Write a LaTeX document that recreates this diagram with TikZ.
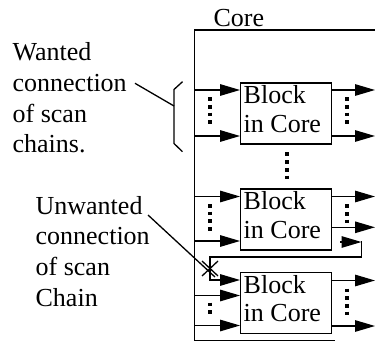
\documentclass[tikz,border=0pt]{standalone}
\usepackage{fontspec}
\setmainfont{Liberation Serif}
\usetikzlibrary{arrows.meta}
\begin{document}
\begin{tikzpicture}[x=1pt,y=-1pt,line width=1.3pt,
  arr/.style={-{Triangle[length=20pt,width=11.5pt]}},
  blockbox/.style={draw, minimum width=91pt, minimum height=61pt, inner sep=0pt},
  blocktext/.style={inner sep=0pt, align=left, anchor=north west, font=\fontsize{26}{28.4}\selectfont},
  dotcol/.style={line width=4pt, dash pattern=on 3.7pt off 4pt},
  lbl/.style={font=\fontsize{26}{30.7}\selectfont, align=left, inner sep=0pt, anchor=north west}]
\useasboundingbox (0,0) rectangle (375,342);
% core outline
\draw (375,30) -- (194.5,30) -- (194.5,340.5) -- (335,340.5);
\node[font=\fontsize{26}{30}\selectfont, anchor=base west, inner sep=0pt] (corelbl) at (213,26.5) {Core};
% blocks
\node[blockbox] (b1) at (286.2,113.5) {};
\node[blockbox] (b2) at (286.2,219.6) {};
\node[blockbox] (b3) at (286.2,303.2) {};
\node[blocktext] (t1) at ([xshift=3pt,yshift=-2.8pt]b1.north west) {Block\\in Core};
\node[blocktext] (t2) at ([xshift=3pt,yshift=-2.8pt]b2.north west) {Block\\in Core};
\node[blocktext] (t3) at ([xshift=3pt,yshift=-2.8pt]b3.north west) {Block\\in Core};
% block 1
\foreach \y in {90,136} {
  \draw[arr] (194.5,\y) -- (b1.west |- 0,\y);
  \draw[arr] (b1.east |- 0,\y) -- (375,\y);
}
% block 2
\foreach \y in {196.5,241} \draw[arr] (194.5,\y) -- (b2.west |- 0,\y);
\foreach \y in {196.5,227.3} \draw[arr] (b2.east |- 0,\y) -- (375,\y);
% block 3
\foreach \y in {295.5,325.5} \draw[arr] (194.5,\y) -- (b3.west |- 0,\y);
\foreach \y in {280.5,326} \draw[arr] (b3.east |- 0,\y) -- (375,\y);
% unwanted loop
\coordinate (lp1) at (340,242);
\coordinate (lp2) at (361.5,242);
\draw[arr] (lp1) -- (lp2);
\draw[arr] (361.5,241.4) -- (361.5,257) -- (210,257) -- (210,280) -- (b3.west |- 0,280);
% cross mark
\draw (202,261) -- (218,276) (202,276) -- (218,261);
% dots
\draw[dotcol] (210,97.2) -- (210,125);
\draw[dotcol] (346.7,97.2) -- (346.7,125);
\draw[dotcol] (286.7,152.5) -- (286.7,180);
\draw[dotcol] (210,204) -- (210,231.5);
\draw[dotcol] (346.7,204.3) -- (346.7,224);
\draw[dotcol] (210,302.5) -- (210,314.5);
\draw[dotcol] (346.7,288.5) -- (346.7,316);
% labels
\node[lbl] (wanted) at (12,42.2) {Wanted\\connection\\of scan\\chains.};
\node[lbl] (unwanted) at (35,195.5) {Unwanted\\connection\\of scan\\Chain};
% brace and pointers
\draw (182.5,81.7) -- (174,89.5) -- (174,143.5) -- (182.5,151.7);
\draw (135,83.3) -- (174,106);
\draw (148,215) -- (215,277);
\end{tikzpicture}
\end{document}
